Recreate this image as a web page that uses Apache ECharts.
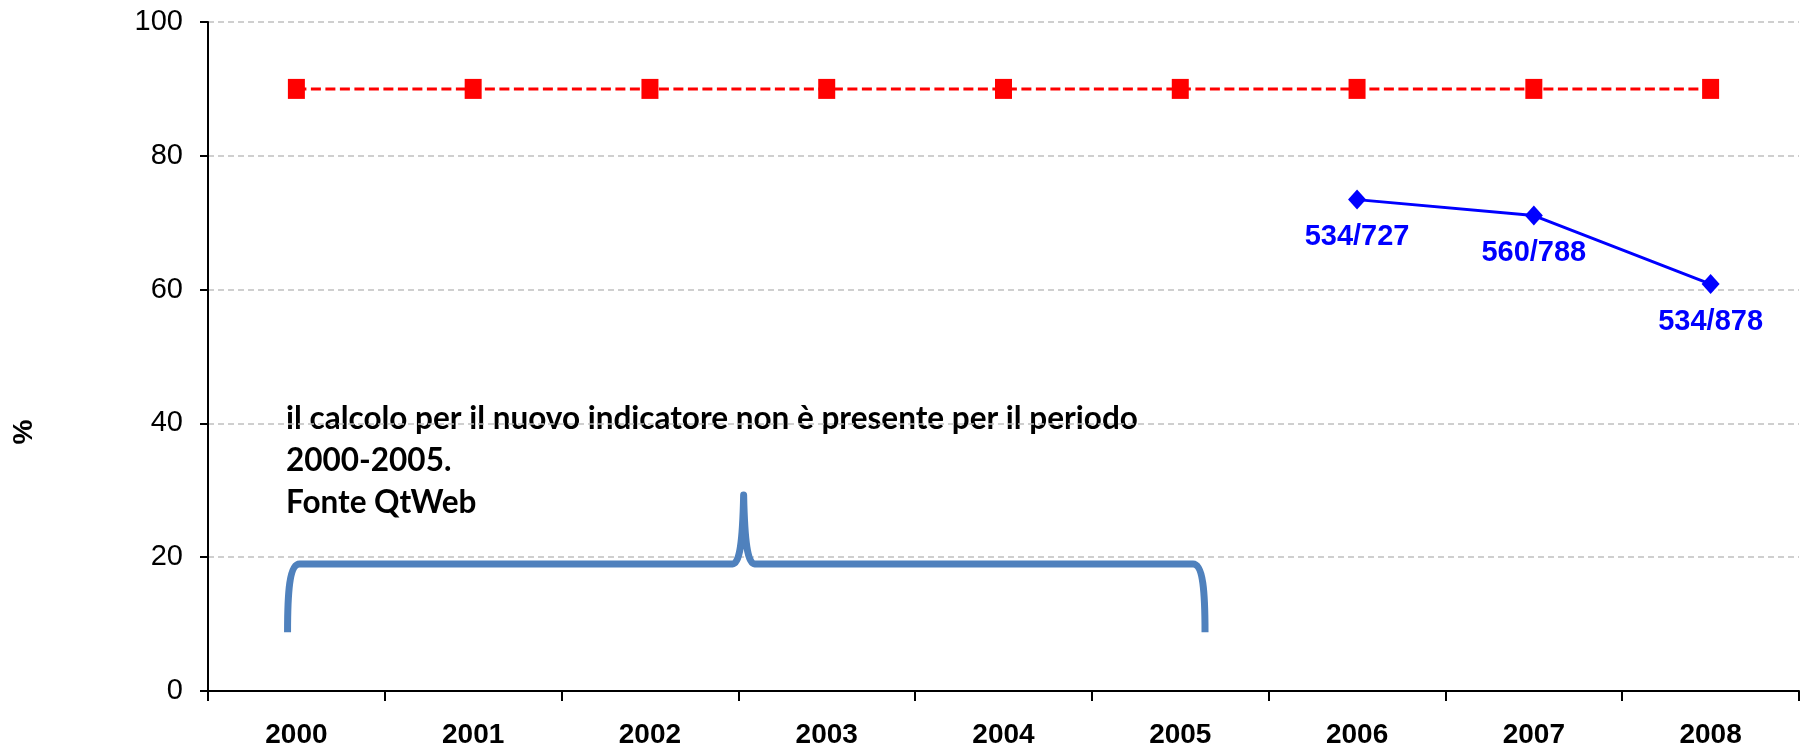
<!DOCTYPE html>
<html>
<head>
<meta charset="utf-8">
<script src="https://cdn.jsdelivr.net/npm/echarts@6/dist/echarts.min.js"></script>
<style>
html,body{margin:0;padding:0;background:#fff;}
#chart{width:1808px;height:750px;}
</style>
</head>
<body>
<div id="chart"></div>
<script>
// ---- data ----
const years = ['2000','2001','2002','2003','2004','2005','2006','2007','2008'];
const targetValues = [90, 90, 90, 90, 90, 90, 90, 90, 90];
const indicatorValues = [null, null, null, null, null, null, 73.45, 71.07, 60.82];
const indicatorLabels = ['', '', '', '', '', '', '534/727', '560/788', '534/878'];
const yMin = 0, yMax = 100, yInterval = 20;
const yAxisName = '%';
const noteLines = [
  'il calcolo per il nuovo indicatore non è presente per il periodo',
  '2000-2005.',
  'Fonte QtWeb'
];
// brace annotation anchors (category position, value)
const braceX = [-0.05, 2.53, 5.14];   // left end, tip, right end
const braceY = [8.8, 19.0, 29.3];     // ends bottom, bar level, tip top

const chart = echarts.init(document.getElementById('chart'), null, {renderer: 'canvas'});
const baseFont = 'Liberation Sans, Arial, sans-serif';

const option = {
  animation: false,
  backgroundColor: '#fff',
  grid: {left: 208, right: 9, top: 22, bottom: 59, containLabel: false},
  xAxis: [{
    type: 'category',
    data: years,
    boundaryGap: true,
    axisLine: {show: true, onZero: false, lineStyle: {color: '#000', width: 2}},
    axisTick: {show: true, length: 10, lineStyle: {color: '#000', width: 2}},
    axisLabel: {color: '#000', fontFamily: baseFont, fontWeight: 'bold', fontSize: 28, margin: 30},
    splitLine: {show: false}
  }, {
    type: 'value',
    min: -0.5, max: 8.5,
    show: false
  }],
  yAxis: {
    type: 'value',
    min: yMin, max: yMax, interval: yInterval,
    axisLine: {show: true, onZero: false, lineStyle: {color: '#000', width: 2}},
    axisTick: {show: true, length: 8, lineStyle: {color: '#000', width: 2}},
    axisLabel: {color: '#000', fontFamily: baseFont, fontSize: 29, margin: 25},
    splitLine: {show: true, lineStyle: {color: '#c0c0c0', width: 1.5, type: [6, 4]}}
  },
  graphic: [{
    type: 'text',
    x: 24, y: 432,
    rotation: Math.PI / 2,
    style: {text: yAxisName, fontFamily: baseFont, fontWeight: 'bold', fontSize: 28, fill: '#000', align: 'center', verticalAlign: 'middle'}
  }, {
    type: 'text',
    x: 286, y: 398,
    style: {text: noteLines.join('\n'), fontFamily: 'Lato, sans-serif', fontWeight: 'bold', fontSize: 31.5, lineHeight: 42, fill: '#000', align: 'left', verticalAlign: 'top'}
  }],
  series: [{
    type: 'line',
    data: targetValues,
    symbol: 'rect',
    symbolSize: [17, 20],
    itemStyle: {color: '#ff0000'},
    lineStyle: {color: '#ff0000', width: 3, type: [10, 4.5]},
    z: 3
  }, {
    type: 'line',
    data: indicatorValues,
    symbol: 'diamond',
    symbolSize: [18, 20],
    connectNulls: false,
    itemStyle: {color: '#0000ff'},
    lineStyle: {color: '#0000ff', width: 3},
    label: {
      show: true,
      position: 'bottom',
      distance: 13,
      color: '#0000ff',
      fontFamily: baseFont,
      fontWeight: 'bold',
      fontSize: 29,
      formatter: p => indicatorLabels[p.dataIndex]
    },
    z: 4
  }, {
    type: 'custom',
    xAxisIndex: 1,
    yAxisIndex: 0,
    data: [[0, 0]],
    silent: true,
    z: 2,
    renderItem: function (params, api) {
      const L = api.coord([braceX[0], braceY[0]]);
      const T = api.coord([braceX[1], braceY[2]]);
      const R = api.coord([braceX[2], braceY[0]]);
      const h = api.coord([braceX[1], braceY[1]])[1];
      const d = 'M' + L[0] + ',' + L[1] +
        ' C' + L[0] + ',' + (h + 28) + ' ' + (L[0] + 2) + ',' + h + ' ' + (L[0] + 12) + ',' + h +
        ' L' + (T[0] - 11) + ',' + h +
        ' C' + (T[0] - 4) + ',' + h + ' ' + (T[0] - 1) + ',' + (h - 22) + ' ' + T[0] + ',' + T[1] +
        ' C' + (T[0] + 1) + ',' + (h - 22) + ' ' + (T[0] + 4) + ',' + h + ' ' + (T[0] + 11) + ',' + h +
        ' L' + (R[0] - 12) + ',' + h +
        ' C' + (R[0] - 2) + ',' + h + ' ' + R[0] + ',' + (h + 28) + ' ' + R[0] + ',' + R[1];
      return {
        type: 'path',
        shape: {pathData: d},
        style: {stroke: '#4f81bd', lineWidth: 7, fill: null, lineJoin: 'round', lineCap: 'butt'}
      };
    }
  }]
};
chart.setOption(option);
</script>
</body>
</html>
